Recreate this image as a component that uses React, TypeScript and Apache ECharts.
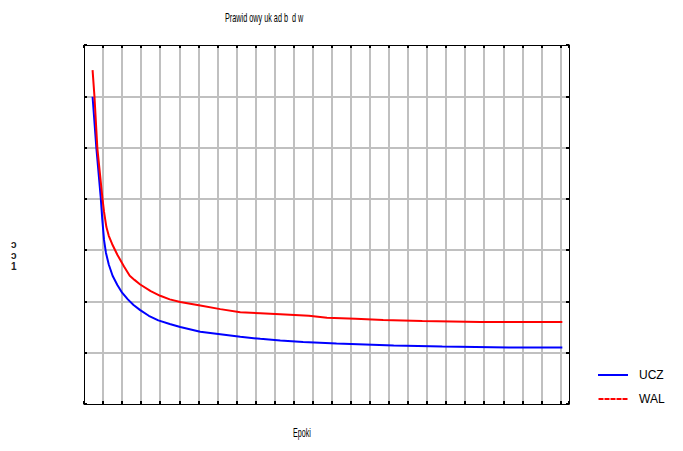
import React, { useEffect, useRef } from "react";
import * as echarts from "echarts";

const titleText = "Prawid owy uk ad b  d w";
const xAxisName = "Epoki";
const yAxisName = "ɔ\nɔ\n1";
const seriesNames = ["UCZ", "WAL"];

const epochsUCZ = [9, 13, 17.6, 19.2, 21, 23, 26, 30, 35, 40, 46, 52, 59, 68, 78, 90, 101, 122, 143, 164, 185, 206, 230, 265, 295, 325, 376, 446, 502];
const valuesUCZ = [5.99, 4.99, 4.02, 3.6, 3.2, 2.95, 2.72, 2.5, 2.32, 2.17, 2.04, 1.93, 1.83, 1.72, 1.63, 1.56, 1.5, 1.41, 1.36, 1.31, 1.27, 1.24, 1.21, 1.18, 1.16, 1.14, 1.12, 1.1, 1.1];

const epochsWAL = [9, 11, 14, 19.3, 21, 23.5, 26, 29.5, 35, 42, 48, 53, 59, 70, 80, 90, 101, 122, 143, 164, 185, 206, 236, 255, 285, 314, 355, 416, 502];
const valuesWAL = [6.51, 5.99, 4.99, 4.02, 3.75, 3.45, 3.28, 3.12, 2.91, 2.68, 2.5, 2.42, 2.33, 2.2, 2.11, 2.04, 1.99, 1.92, 1.85, 1.79, 1.77, 1.75, 1.72, 1.68, 1.66, 1.64, 1.62, 1.6, 1.6];

const xMin = 0;
const xMax = 509;
const xInterval = 20;
const yMin = 0;
const yMax = 7;
const yInterval = 1;

const solidIcon = "path://M0,0H30V2H0Z";
const dashedIcon = "path://M0,0H5V2H0Z M6,0H11V2H6Z M12,0H17V2H12Z M18,0H23V2H18Z M24,0H29V2H24Z";

export default function App() {
  const ref = useRef<HTMLDivElement>(null);
  useEffect(() => {
    if (!ref.current) return;
    const chart = echarts.init(ref.current, null, { renderer: "svg" });
    const axisLine = { show: true, onZero: false, lineStyle: { color: "#000", width: 1 } };
    const axisTick = { show: true, inside: true, length: 3, lineStyle: { color: "#000", width: 2 } };
    const split = { show: true, showMinLine: false, showMaxLine: false, lineStyle: { color: "#c0c0c0", width: 2 } };
    const xBase = { type: "value", min: xMin, max: xMax, interval: xInterval, axisLabel: { show: false }, axisLine, axisTick };
    const yBase = { type: "value", min: yMin, max: yMax, interval: yInterval, axisLabel: { show: false }, axisLine, axisTick };
    chart.setOption({
      animation: false,
      backgroundColor: "#fff",
      grid: { left: 84, right: 114, top: 45, bottom: 47, containLabel: false },
      xAxis: [
        { ...xBase, position: "bottom", splitLine: split },
        { ...xBase, position: "top", splitLine: { show: false }, z: 3 },
      ],
      yAxis: [
        { ...yBase, position: "left", splitLine: split },
        { ...yBase, position: "right", splitLine: { show: false }, z: 3 },
      ],
      legend: {
        orient: "vertical",
        left: 593,
        top: 364,
        itemWidth: 30,
        itemHeight: 2,
        itemGap: 12,
        textStyle: { fontFamily: "'Liberation Sans', Arial", fontSize: 12, color: "#000", padding: [0, 0, 0, 6] },
        data: [
          { name: seriesNames[0], icon: solidIcon, itemStyle: { color: "#0000ff" } },
          { name: seriesNames[1], icon: dashedIcon, itemStyle: { color: "#ff0000" } },
        ],
      },
      graphic: [
        {
          type: "text",
          x: 225,
          y: 11,
          scaleX: 0.56,
          style: { text: titleText, font: "13px 'Liberation Sans', Arial", fill: "#000", textAlign: "left", textVerticalAlign: "top" },
        },
        {
          type: "text",
          x: 293,
          y: 426,
          scaleX: 0.55,
          style: { text: xAxisName, font: "13px 'Liberation Sans', Arial", fill: "#000", textAlign: "left", textVerticalAlign: "top" },
        },
        {
          type: "text",
          x: 11,
          y: 239,
          style: { text: yAxisName, font: "bold 10px 'Liberation Sans', Arial", lineHeight: 11, fill: "#222", textAlign: "left", textVerticalAlign: "top" },
        },
      ],
      series: [
        {
          name: seriesNames[0],
          type: "line",
          symbol: "none",
          xAxisIndex: 0,
          yAxisIndex: 0,
          lineStyle: { color: "#0000ff", width: 2 },
          itemStyle: { color: "#0000ff" },
          data: epochsUCZ.map((e, i) => [e, valuesUCZ[i]]),
        },
        {
          name: seriesNames[1],
          type: "line",
          symbol: "none",
          xAxisIndex: 0,
          yAxisIndex: 0,
          lineStyle: { color: "#ff0000", width: 2 },
          itemStyle: { color: "#ff0000" },
          data: epochsWAL.map((e, i) => [e, valuesWAL[i]]),
        },
      ],
    });
    return () => chart.dispose();
  }, []);
  return <div ref={ref} style={{ position: "fixed", left: 0, top: 0, width: 683, height: 451 }} />;
}
